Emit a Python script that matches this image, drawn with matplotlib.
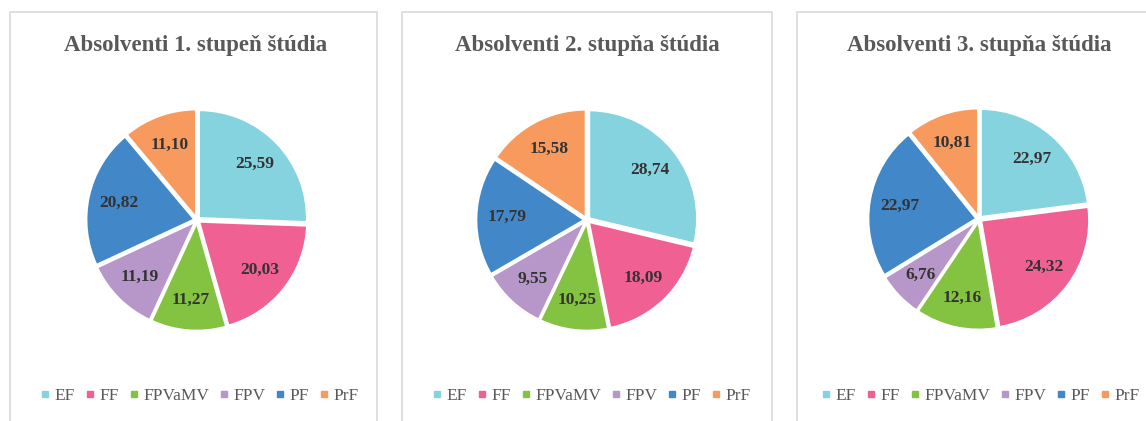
import numpy as np
import matplotlib
matplotlib.use('Agg')
import matplotlib.pyplot as plt
from matplotlib.patches import Rectangle
from matplotlib.lines import Line2D

categories = ['EF', 'FF', 'FPVaMV', 'FPV', 'PF', 'PrF']
colors = ['#86D3E0', '#F06093', '#83C341', '#B797C9', '#4287C7', '#F89A5E']

titles = ['Absolventi 1. stupeň štúdia',
          'Absolventi 2. stupňa štúdia',
          'Absolventi 3. stupňa štúdia']
values_1 = [25.59, 20.03, 11.27, 11.19, 20.82, 11.10]
values_2 = [28.74, 18.09, 10.25, 9.55, 17.79, 15.58]
values_3 = [22.97, 24.32, 12.16, 6.76, 22.97, 10.81]
all_values = [values_1, values_2, values_3]

W, H = 1146, 421
fig = plt.figure(figsize=(W / 100, H / 100), dpi=100)
fig.patch.set_facecolor('white')

serif = 'Liberation Serif'

# panel frames (pixels: left, right)
panels = [(10, 377), (402, 772), (797, 1160)]
centers = [(197, 220), (587, 220), (979, 219)]
title_x = [196, 587, 979]
legend_x = [200, 592, 981]
radius_px = 108

for i, (x0, x1) in enumerate(panels):
    # light frame around each chart
    fig.add_artist(Rectangle((x0 / W, -0.1), (x1 - x0) / W, 1.1 - 12 / H,
                             transform=fig.transFigure, fill=False,
                             edgecolor='#D9D9D9', linewidth=1.2))
    fig.text(title_x[i] / W, 1 - 46 / H, titles[i], ha='center', va='center',
             fontsize=16.5, fontweight='bold', color='#595959', family=serif)

    cx, cy = centers[i]
    size = radius_px * 2.3
    ax = fig.add_axes([(cx - size / 2) / W, (H - cy - size / 2) / H, size / W, size / H])
    wedges, texts, autotexts = ax.pie(
        all_values[i], colors=colors, startangle=90, counterclock=False,
        radius=1.0, explode=[0.025] * 6,
        autopct=lambda p: '', pctdistance=0.72,
        wedgeprops=dict(edgecolor='white', linewidth=1.5))
    for t, v in zip(autotexts, all_values[i]):
        t.set_text(f'{v:.2f}'.replace('.', ','))
        t.set_fontsize(12.5)
        t.set_fontweight('bold')
        t.set_color('#333333')
        t.set_family(serif)
    ax.set_xlim(-1.15, 1.15)
    ax.set_ylim(-1.15, 1.15)
    ax.set_aspect('equal')
    ax.axis('off')

    handles = [Line2D([], [], marker='s', linestyle='', markersize=4,
                      markerfacecolor=c, markeredgecolor=c) for c in colors]
    leg = fig.legend(handles, categories, loc='center', ncol=6,
                     bbox_to_anchor=(legend_x[i] / W, 1 - 396 / H), frameon=False,
                     handlelength=0.5, handletextpad=0.3, columnspacing=0.6,
                     prop={'family': serif, 'size': 12.5})
    for t in leg.get_texts():
        t.set_color('#595959')

fig.savefig('out.png', dpi=100)
